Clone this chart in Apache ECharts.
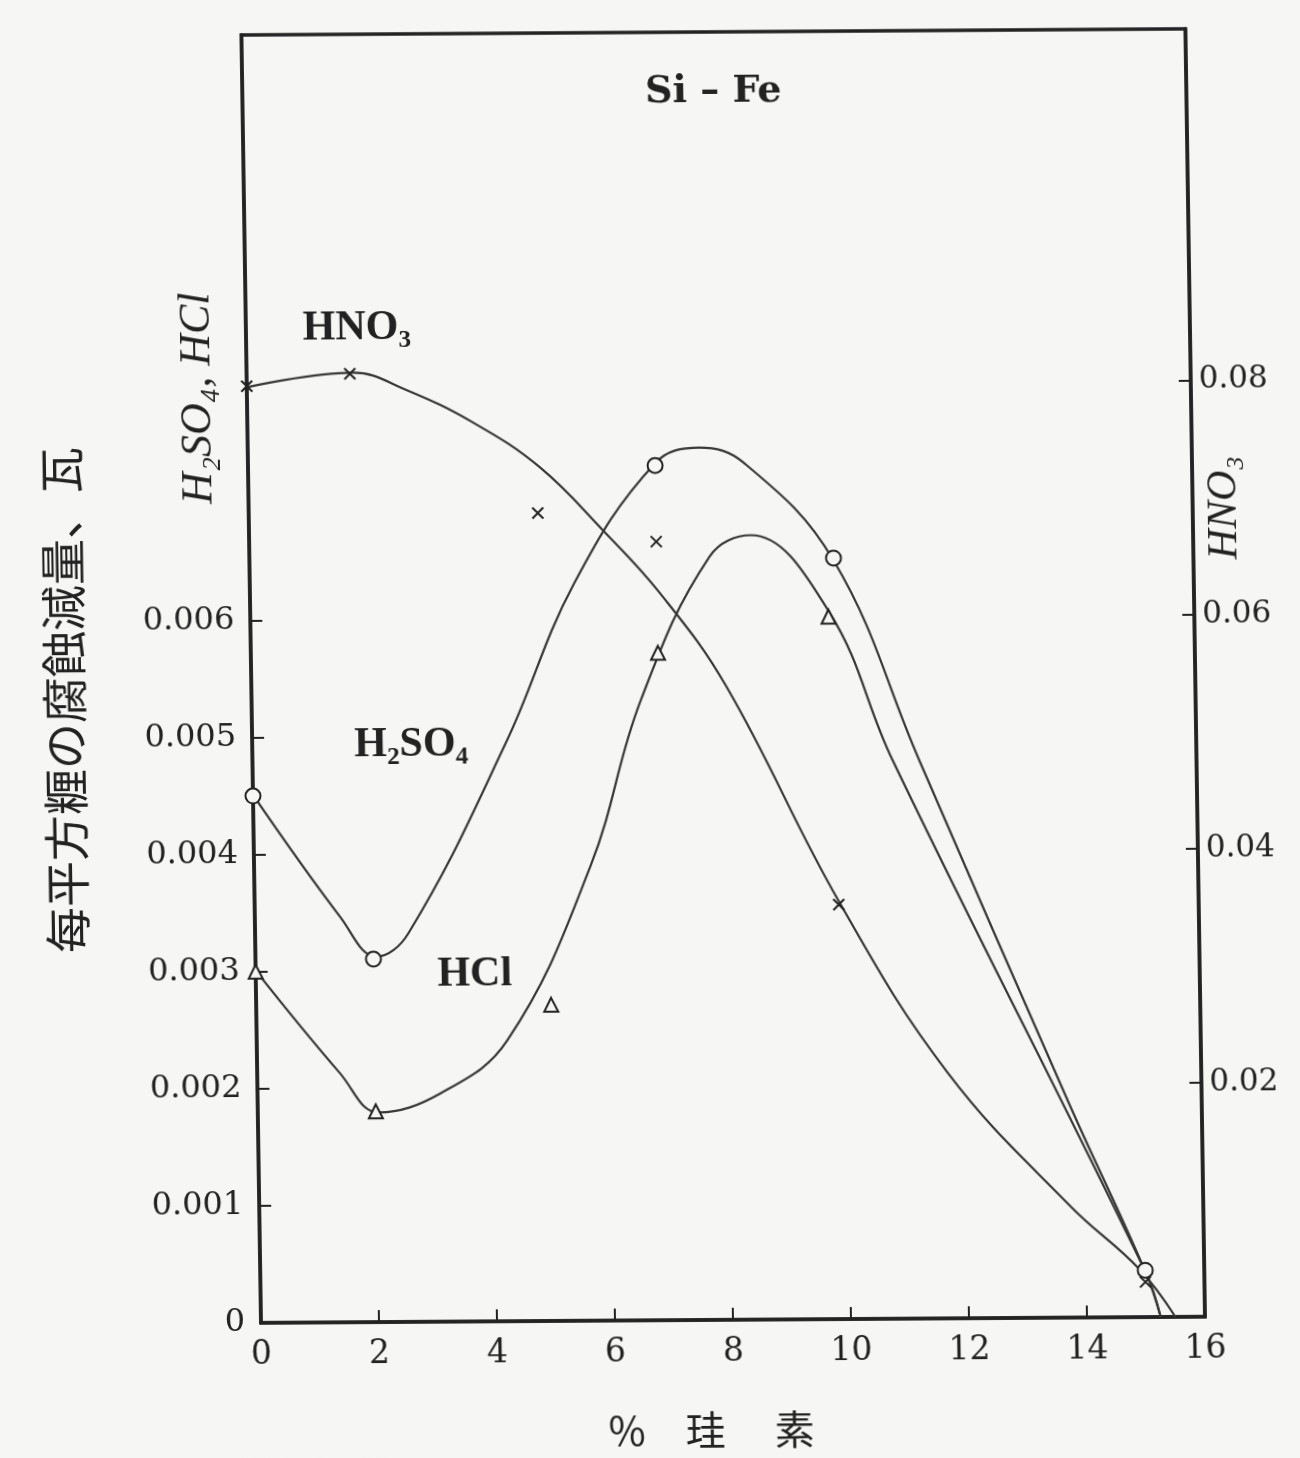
<!DOCTYPE html>
<html>
<head>
<meta charset="UTF-8">
<title>Si-Fe</title>
<script src="https://cdn.jsdelivr.net/npm/echarts@6/dist/echarts.min.js"></script>
<style>
html, body { margin: 0; padding: 0; background: #f6f6f4; }
/* the scan is slightly skewed, so the whole chart gets the same small tilt */
#main { width: 1300px; height: 1458px; transform-origin: 261px 1323px; transform: matrix(1, -0.0065, 0.0152, 1, 0, 0); }
</style>
</head>
<body>
<div id="main"></div>
<script>
// tick labels
var xTicks = [0, 2, 4, 6, 8, 10, 12, 14, 16];
var leftTicks = [0, 0.001, 0.002, 0.003, 0.004, 0.005, 0.006];
var rightTicks = [0.02, 0.04, 0.06, 0.08];

// measured points (% Si, loss)
var h2so4X = [0, 2, 6.9, 9.9, 15];
var h2so4Y = [0.0045, 0.0031, 0.0073, 0.0065, 0.0004];
var hclX = [0, 2, 5, 6.9, 9.8];
var hclY = [0.0030, 0.0018, 0.0027, 0.0057, 0.0060];
var hno3X = [0, 1.75, 4.9, 6.9, 9.9, 15];
var hno3Y = [0.080, 0.081, 0.069, 0.0665, 0.0354, 0.003];

// drawn curves
var h2so4CurveX = [0, 1.45, 2.05, 2.6, 4.3, 5.5, 6.9, 7.65, 8.4, 9.9, 11.3, 13.75, 15.0, 15.25];
var h2so4CurveY = [0.00451, 0.00346, 0.00312, 0.00332, 0.00494, 0.0063, 0.00732, 0.00745, 0.00732, 0.00648, 0.00477, 0.00183, 0.00039, 0];
var hclCurveX = [0, 1.4, 2.05, 3.1, 4.25, 5.7, 6.6, 7.8, 8.5, 9.8, 10.85, 15.0, 15.25];
var hclCurveY = [0.00301, 0.00213, 0.00179, 0.00195, 0.0024, 0.00388, 0.0053, 0.00652, 0.0067, 0.00605, 0.00477, 0.00039, 0];
var hno3CurveX = [0, 1.8, 2.7, 3.85, 4.95, 6.0, 6.95, 8.05, 9.9, 11.7, 13.75, 14.9, 15.5];
var hno3CurveY = [0.0799, 0.0811, 0.0796, 0.0767, 0.0729, 0.0675, 0.0621, 0.0541, 0.0357, 0.021, 0.0095, 0.0041, 0];

function pairs(xs, ys) {
	var out = [];
	for (var i = 0; i < xs.length; i++) out.push([xs[i], ys[i]]);
	return out;
}

var ink = '#222';
var lineInk = '#383838';
var paper = '#f6f6f4';
var numFont = 'DejaVu Serif';
var cjk = 'Noto Sans CJK JP';

var myChart = echarts.init(document.getElementById('main'));

function curve(name, xs, ys, axis) {
	return {
		name: name, type: 'line', yAxisIndex: axis,
		data: pairs(xs, ys), smooth: 0.4, showSymbol: false,
		lineStyle: { color: lineInk, width: 2.2 }, z: 2
	};
}
function marks(name, xs, ys, axis, symbol, size) {
	return {
		name: name, type: 'scatter', yAxisIndex: axis,
		data: pairs(xs, ys), symbol: symbol, symbolSize: size,
		itemStyle: { color: symbol.indexOf('path') === 0 ? ink : paper, borderColor: ink, borderWidth: 2, opacity: 1 },
		z: 5
	};
}

var option = {
	backgroundColor: paper,
	animation: false,
	grid: { left: 261, top: 35, right: 95, bottom: 135, show: true, borderColor: ink, borderWidth: 3.5, backgroundColor: 'transparent' },
	xAxis: {
		type: 'value', min: 0, max: 16, interval: 2,
		name: '%\u3000珪\u3000 素', nameLocation: 'middle', nameGap: 90,
		nameTextStyle: { fontFamily: cjk, fontSize: 40, color: ink, padding: [0, 46, 0, 0] },
		axisLine: { show: true, onZero: false, lineStyle: { color: ink, width: 3.5 } },
		axisTick: { show: true, inside: true, length: 12, customValues: xTicks.slice(1, -1), lineStyle: { color: ink, width: 2 } },
		axisLabel: { customValues: xTicks, margin: 16, fontFamily: numFont, fontSize: 33, color: ink },
		splitLine: { show: false }
	},
	yAxis: [{
		type: 'value', min: 0, max: 0.011, interval: 0.001, position: 'left',
		name: '每平方糎の腐蝕減量、瓦', nameLocation: 'middle', nameGap: 164,
		nameTextStyle: { fontFamily: cjk, fontSize: 46, color: ink, padding: [0, 40, 0, 0] },
		axisLine: { show: true, onZero: false, lineStyle: { color: ink, width: 3.5 } },
		axisTick: { show: true, inside: true, length: 12, customValues: leftTicks.slice(1), lineStyle: { color: ink, width: 2 } },
		axisLabel: {
			customValues: leftTicks, margin: 16, fontFamily: numFont, fontSize: 32, color: ink,
			formatter: function (v) { return v === 0 ? '0' : v.toFixed(3); }
		},
		splitLine: { show: false }
	}, {
		type: 'value', min: 0, max: 0.11, interval: 0.01, position: 'right',
		axisLine: { show: true, onZero: false, lineStyle: { color: ink, width: 3.5 } },
		axisTick: { show: true, inside: true, length: 12, customValues: rightTicks, lineStyle: { color: ink, width: 2 } },
		axisLabel: {
			customValues: rightTicks, margin: 8, fontFamily: numFont, fontSize: 31, color: ink,
			formatter: function (v) { return v.toFixed(2); }
		},
		splitLine: { show: false }
	}],
	graphic: [
		{ type: 'text', x: 732, y: 95, style: { text: 'Si – Fe', font: 'bold 38px "DejaVu Serif"', fill: ink, textAlign: 'center', textVerticalAlign: 'middle' } },
		{ type: 'text', x: 372, y: 329, style: { text: 'HNO₃', font: 'bold 42px "Liberation Serif"', fill: ink, textAlign: 'center', textVerticalAlign: 'middle' } },
		{ type: 'text', x: 420, y: 746, style: { text: 'H₂SO₄', font: 'bold 42px "Liberation Serif"', fill: ink, textAlign: 'center', textVerticalAlign: 'middle' } },
		{ type: 'text', x: 480, y: 976, style: { text: 'HCl', font: 'bold 42px "Liberation Serif"', fill: ink, textAlign: 'center', textVerticalAlign: 'middle' } },
		{ type: 'text', x: 212, y: 398, rotation: Math.PI / 2, style: { text: 'H₂SO₄, HCl', font: 'italic 44px "Liberation Serif"', fill: ink, textAlign: 'center', textVerticalAlign: 'middle' } },
		{ type: 'text', x: 1237, y: 514, rotation: Math.PI / 2, style: { text: 'HNO₃', font: 'italic 42px "Liberation Serif"', fill: ink, textAlign: 'center', textVerticalAlign: 'middle' } }
	],
	series: [
		curve('H2SO4', h2so4CurveX, h2so4CurveY, 0),
		curve('HCl', hclCurveX, hclCurveY, 0),
		curve('HNO3', hno3CurveX, hno3CurveY, 1),
		marks('H2SO4 点', h2so4X, h2so4Y, 0, 'circle', 15),
		marks('HCl 点', hclX, hclY, 0, 'triangle', 14),
		marks('HNO3 点', hno3X, hno3Y, 1, 'path://M0,0L10,10M10,0L0,10', 11)
	]
};
myChart.setOption(option);
</script>
</body>
</html>
